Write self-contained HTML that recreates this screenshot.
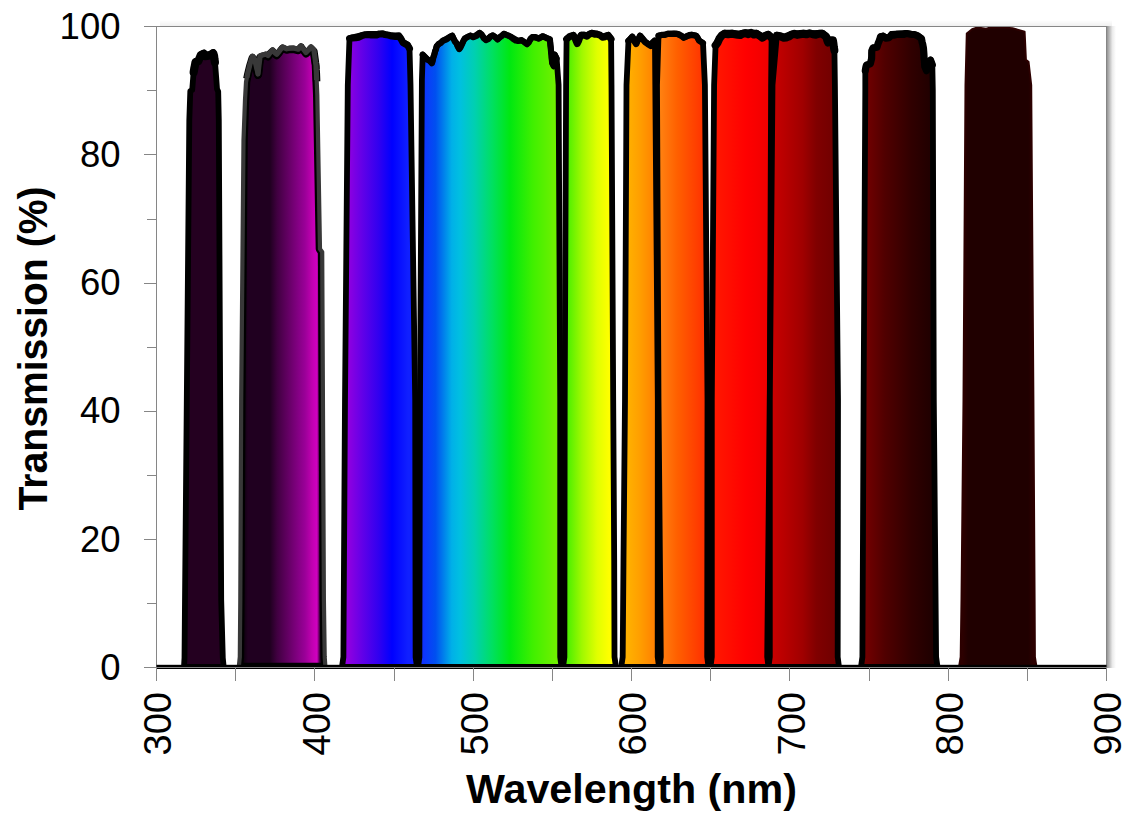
<!DOCTYPE html>
<html><head><meta charset="utf-8"><style>
html,body{margin:0;padding:0;background:#fff;}
svg{display:block;font-family:"Liberation Sans", sans-serif;}
</style></head><body>
<svg width="1138" height="826" viewBox="0 0 1138 826">
<defs><clipPath id="plotclip"><rect x="150" y="0" width="960" height="669"/></clipPath><linearGradient id="g0" gradientUnits="userSpaceOnUse" x1="185" y1="0" x2="222" y2="0"><stop offset="0.0000" stop-color="#240020"/><stop offset="1.0000" stop-color="#240020"/></linearGradient><linearGradient id="g1" gradientUnits="userSpaceOnUse" x1="244" y1="0" x2="320" y2="0"><stop offset="0.0000" stop-color="#100010"/><stop offset="0.0526" stop-color="#200020"/><stop offset="0.3421" stop-color="#200020"/><stop offset="0.4342" stop-color="#400040"/><stop offset="0.5658" stop-color="#600060"/><stop offset="0.6974" stop-color="#800080"/><stop offset="0.8026" stop-color="#9a0098"/><stop offset="0.8947" stop-color="#c000b0"/><stop offset="0.9605" stop-color="#d000c0"/><stop offset="1.0000" stop-color="#300030"/></linearGradient><clipPath id="c1"><path d="M238.8 667.0 L239.8 657.0 L240.3 600.0 L241.2 400.0 L243.5 140.0 L245.0 100.0 L246.0 82.0 L247.8 73.0 L250.0 64.0 L252.5 56.3 L255.0 60.0 L258.0 74.0 L260.0 56.0 L262.5 55.0 L266.0 54.0 L268.0 55.5 L272.6 50.0 L276.7 54.2 L282.6 47.0 L286.8 48.8 L293.4 48.0 L298.4 49.2 L301.0 45.8 L306.0 52.5 L311.0 47.0 L313.9 50.0 L315.0 58.0 L316.0 65.0 L317.3 95.0 L320.0 249.0 L322.2 252.0 L323.9 600.0 L324.7 657.0 L325.4 667.0 Z"/></clipPath><linearGradient id="g2" gradientUnits="userSpaceOnUse" x1="348" y1="0" x2="408" y2="0"><stop offset="0.0000" stop-color="#9000e0"/><stop offset="0.2500" stop-color="#6000e8"/><stop offset="0.5167" stop-color="#3000f0"/><stop offset="0.7333" stop-color="#0000ff"/><stop offset="1.0000" stop-color="#1020ff"/></linearGradient><linearGradient id="g3" gradientUnits="userSpaceOnUse" x1="422" y1="0" x2="556" y2="0"><stop offset="0.0000" stop-color="#1030ff"/><stop offset="0.1015" stop-color="#0050f0"/><stop offset="0.2224" stop-color="#00b0e8"/><stop offset="0.2836" stop-color="#00c0e0"/><stop offset="0.3940" stop-color="#00d0b0"/><stop offset="0.5254" stop-color="#00e060"/><stop offset="0.6567" stop-color="#00e810"/><stop offset="0.8284" stop-color="#40f000"/><stop offset="1.0000" stop-color="#70f000"/></linearGradient><linearGradient id="g4" gradientUnits="userSpaceOnUse" x1="568" y1="0" x2="609" y2="0"><stop offset="0.0000" stop-color="#50f000"/><stop offset="0.3415" stop-color="#a0f800"/><stop offset="0.7073" stop-color="#e0ff00"/><stop offset="1.0000" stop-color="#ffff00"/></linearGradient><linearGradient id="g5" gradientUnits="userSpaceOnUse" x1="628" y1="0" x2="655" y2="0"><stop offset="0.0000" stop-color="#ffb000"/><stop offset="0.4074" stop-color="#ffa000"/><stop offset="1.0000" stop-color="#ff8000"/></linearGradient><linearGradient id="g6" gradientUnits="userSpaceOnUse" x1="661" y1="0" x2="705" y2="0"><stop offset="0.0000" stop-color="#ff8010"/><stop offset="0.3636" stop-color="#ff6000"/><stop offset="1.0000" stop-color="#ff3000"/></linearGradient><linearGradient id="g7" gradientUnits="userSpaceOnUse" x1="715" y1="0" x2="767" y2="0"><stop offset="0.0000" stop-color="#ff1800"/><stop offset="0.5962" stop-color="#ff0000"/><stop offset="1.0000" stop-color="#f00000"/></linearGradient><linearGradient id="g8" gradientUnits="userSpaceOnUse" x1="773" y1="0" x2="835" y2="0"><stop offset="0.0000" stop-color="#c80000"/><stop offset="0.4758" stop-color="#a00000"/><stop offset="0.7016" stop-color="#800000"/><stop offset="1.0000" stop-color="#700000"/></linearGradient><linearGradient id="g9" gradientUnits="userSpaceOnUse" x1="867" y1="0" x2="931" y2="0"><stop offset="0.0000" stop-color="#700000"/><stop offset="0.2812" stop-color="#500000"/><stop offset="0.6953" stop-color="#300000"/><stop offset="1.0000" stop-color="#200000"/></linearGradient><linearGradient id="g10" gradientUnits="userSpaceOnUse" x1="962" y1="0" x2="1034" y2="0"><stop offset="0.0000" stop-color="#2e0000"/><stop offset="0.0833" stop-color="#200000"/><stop offset="0.9167" stop-color="#200000"/><stop offset="1.0000" stop-color="#2e0000"/></linearGradient><linearGradient id="shR" x1="0" y1="0" x2="1" y2="0"><stop offset="0" stop-color="#000" stop-opacity="0.42"/><stop offset="0.3" stop-color="#000" stop-opacity="0.25"/><stop offset="0.6" stop-color="#000" stop-opacity="0.08"/><stop offset="1" stop-color="#000" stop-opacity="0"/></linearGradient><linearGradient id="shT" x1="0" y1="1" x2="0" y2="0"><stop offset="0" stop-color="#000" stop-opacity="0.06"/><stop offset="1" stop-color="#000" stop-opacity="0"/></linearGradient></defs>
<rect width="1138" height="826" fill="#fff"/>
<rect x="1107" y="26" width="9" height="642" fill="url(#shR)"/><rect x="160" y="20" width="952" height="6" fill="url(#shT)"/>
<g clip-path="url(#plotclip)"><path d="M184.0 667.0 L184.5 658.0 L185.0 600.0 L189.3 120.0 L190.3 91.0 L192.2 90.0 L193.7 71.0 L195.5 61.0 L198.3 60.0 L200.8 54.0 L203.8 52.5 L205.0 55.0 L208.4 54.4 L211.0 53.5 L213.2 52.0 L214.0 54.3 L214.9 61.0 L216.3 79.0 L217.0 89.0 L218.2 91.5 L218.8 120.0 L221.2 600.0 L222.8 658.0 L223.7 667.0 Z" fill="url(#g0)" stroke="#000" stroke-width="5.8" stroke-linejoin="round"/><path d="M193.7 72.2 L194.3 68.4 L194.9 65.6 L195.5 62.2 L198.3 61.2 L199.6 58.0 L200.8 55.2 L203.8 53.7 L205.0 56.2 L208.4 55.6 L211.0 54.7 L213.2 53.2 L214.0 55.5 L214.4 59.0 L214.9 62.2" fill="none" stroke="#000" stroke-width="8.2" stroke-linejoin="round" stroke-linecap="round"/><path d="M238.8 667.0 L239.8 657.0 L240.3 600.0 L241.2 400.0 L243.5 140.0 L245.0 100.0 L246.0 82.0 L247.8 73.0 L250.0 64.0 L252.5 56.3 L255.0 60.0 L258.0 74.0 L260.0 56.0 L262.5 55.0 L266.0 54.0 L268.0 55.5 L272.6 50.0 L276.7 54.2 L282.6 47.0 L286.8 48.8 L293.4 48.0 L298.4 49.2 L301.0 45.8 L306.0 52.5 L311.0 47.0 L313.9 50.0 L315.0 58.0 L316.0 65.0 L317.3 95.0 L320.0 249.0 L322.2 252.0 L323.9 600.0 L324.7 657.0 L325.4 667.0 Z" fill="url(#g1)"/><path d="M238.8 667.0 L239.8 657.0 L240.3 600.0 L241.2 400.0 L243.5 140.0 L245.0 100.0 L246.0 82.0 L247.8 73.0 L250.0 64.0 L252.5 56.3 L255.0 60.0 L258.0 74.0 L260.0 56.0 L262.5 55.0 L266.0 54.0 L268.0 55.5 L272.6 50.0 L276.7 54.2 L282.6 47.0 L286.8 48.8 L293.4 48.0 L298.4 49.2 L301.0 45.8 L306.0 52.5 L311.0 47.0 L313.9 50.0 L315.0 58.0 L316.0 65.0 L317.3 95.0 L320.0 249.0 L322.2 252.0 L323.9 600.0 L324.7 657.0 L325.4 667.0 Z" fill="none" stroke="#000" stroke-width="8.6" stroke-linejoin="round" clip-path="url(#c1)"/><path d="M246.9 78.8 L247.8 74.3 L248.5 71.4 L249.3 68.2 L250.0 65.3 L250.8 62.8 L251.7 59.8 L252.5 57.6 L255.0 61.3 L255.6 64.5 L256.2 67.3 L256.8 69.9 L257.4 72.1 L258.0 75.3 L258.3 72.3 L258.7 69.1 L259.0 66.0 L259.3 63.8 L259.7 60.9 L260.0 57.3 L262.5 56.3 L266.0 55.3 L268.0 56.8 L270.3 53.5 L272.6 51.3 L274.6 53.8 L276.7 55.5 L278.7 53.2 L280.6 50.6 L282.6 48.3 L286.8 50.1 L290.1 49.4 L293.4 49.3 L298.4 50.5 L301.0 47.1 L302.7 49.5 L304.3 51.5 L306.0 53.8 L308.5 51.3 L311.0 48.3 L313.9 51.3 L314.3 54.2 L314.6 56.2 L315.0 59.3 L315.5 63.1 L316.0 66.3 L316.1 69.9 L316.3 72.9 L316.4 75.4 L316.5 77.8 L316.6 81.3" fill="none" stroke="#000" stroke-width="7.5" stroke-linejoin="round"/><path d="M238.8 667.0 L239.8 657.0 L240.3 600.0 L241.2 400.0 L243.5 140.0 L245.0 100.0 L246.0 82.0 L247.8 73.0 L250.0 64.0 L252.5 56.3 L255.0 60.0 L258.0 74.0 L260.0 56.0 L262.5 55.0 L266.0 54.0 L268.0 55.5 L272.6 50.0 L276.7 54.2 L282.6 47.0 L286.8 48.8 L293.4 48.0 L298.4 49.2 L301.0 45.8 L306.0 52.5 L311.0 47.0 L313.9 50.0 L315.0 58.0 L316.0 65.0 L317.3 95.0 L320.0 249.0 L322.2 252.0 L323.9 600.0 L324.7 657.0 L325.4 667.0 Z" fill="none" stroke="#383838" stroke-width="4.2" stroke-linejoin="round"/><path d="M246.9 77.5 L247.8 73.0 L248.5 70.1 L249.3 66.9 L250.0 64.0 L250.8 61.5 L251.7 58.5 L252.5 56.3 L255.0 60.0 L255.6 63.2 L256.2 66.0 L256.8 68.6 L257.4 70.8 L258.0 74.0 L258.3 71.0 L258.7 67.8 L259.0 64.7 L259.3 62.5 L259.7 59.6 L260.0 56.0 L262.5 55.0 L266.0 54.0 L268.0 55.5 L270.3 52.2 L272.6 50.0 L274.6 52.5 L276.7 54.2 L278.7 51.9 L280.6 49.3 L282.6 47.0 L286.8 48.8 L290.1 48.1 L293.4 48.0 L298.4 49.2 L301.0 45.8 L302.7 48.2 L304.3 50.2 L306.0 52.5 L308.5 50.0 L311.0 47.0 L313.9 50.0 L314.3 52.9 L314.6 54.9 L315.0 58.0 L315.5 61.8 L316.0 65.0 L316.1 68.6 L316.3 71.6 L316.4 74.1 L316.5 76.5 L316.6 80.0" fill="none" stroke="#383838" stroke-width="5.2" stroke-linejoin="round"/><path d="M342.0 667.0 L343.4 657.0 L345.0 400.0 L347.8 85.0 L349.5 38.0 L362.0 35.0 L368.4 34.0 L385.0 34.0 L391.8 35.5 L399.0 35.5 L403.0 42.0 L407.5 44.5 L409.5 48.0 L410.5 85.0 L415.2 400.0 L415.6 657.0 L417.0 667.0 Z" fill="url(#g2)" stroke="#000" stroke-width="5.8" stroke-linejoin="round"/><path d="M349.5 38.6 L352.6 37.9 L355.8 37.7 L358.9 37.2 L362.0 35.6 L365.2 34.7 L368.4 34.6 L371.2 35.1 L373.9 35.0 L376.7 34.9 L379.5 33.9 L382.2 33.7 L385.0 34.6 L388.4 35.1 L391.8 36.1 L395.4 36.5 L399.0 36.1 L401.0 38.9 L403.0 42.6 L407.5 45.1 L409.5 48.6" fill="none" stroke="#000" stroke-width="7.0" stroke-linejoin="round" stroke-linecap="round"/><path d="M418.0 667.0 L419.4 657.0 L420.0 400.0 L421.9 80.0 L422.7 54.5 L431.8 63.0 L436.7 46.1 L443.0 40.5 L452.2 35.5 L459.2 48.9 L464.8 38.4 L470.5 35.5 L473.3 37.0 L479.6 32.7 L485.9 39.8 L492.9 35.3 L497.7 39.2 L504.0 33.7 L511.1 36.9 L518.2 40.8 L521.4 40.0 L526.9 44.0 L532.5 36.9 L538.8 38.4 L542.8 36.1 L549.9 39.2 L550.7 47.2 L552.2 63.0 L553.8 66.1 L554.6 54.3 L556.6 58.2 L558.6 85.0 L560.2 400.0 L560.2 657.0 L561.5 667.0 Z" fill="url(#g3)" stroke="#000" stroke-width="5.8" stroke-linejoin="round"/><path d="M422.7 54.7 L425.0 57.2 L427.2 59.6 L429.5 60.5 L431.8 63.2 L432.6 61.3 L433.4 57.0 L434.2 55.1 L435.1 51.2 L435.9 49.6 L436.7 46.3 L438.8 43.8 L440.9 42.9 L443.0 40.7 L445.3 39.9 L447.6 38.7 L449.9 36.8 L452.2 35.7 L453.6 39.0 L455.0 41.9 L456.4 43.0 L457.8 46.5 L459.2 49.1 L460.6 47.3 L462.0 44.3 L463.4 41.1 L464.8 38.6 L467.6 36.8 L470.5 35.7 L473.3 37.2 L476.5 35.9 L479.6 32.9 L481.7 34.5 L483.8 38.1 L485.9 40.0 L488.2 39.1 L490.6 36.4 L492.9 35.5 L495.3 37.1 L497.7 39.4 L499.8 37.2 L501.9 35.8 L504.0 33.9 L507.6 35.3 L511.1 37.1 L513.5 39.1 L515.8 40.5 L518.2 41.0 L521.4 40.2 L524.1 41.9 L526.9 44.2 L528.8 42.5 L530.6 38.7 L532.5 37.1 L535.6 37.1 L538.8 38.6 L542.8 36.3 L546.3 38.1 L549.9 39.4 L550.2 42.6 L550.4 45.3 L550.7 47.4 L551.0 50.9 L551.2 53.3 L551.5 54.9 L551.7 58.4 L552.0 61.3 L552.2 63.2 L553.8 66.3 L554.0 62.6 L554.2 60.4 L554.4 56.8 L554.6 54.5 L556.6 58.4" fill="none" stroke="#000" stroke-width="6.2" stroke-linejoin="round" stroke-linecap="round"/><path d="M563.0 667.0 L564.4 657.0 L564.7 400.0 L566.1 85.0 L566.6 38.5 L573.4 34.7 L577.2 42.9 L581.1 34.7 L586.9 35.6 L591.7 32.7 L597.5 33.7 L602.4 36.6 L608.2 34.7 L611.1 38.5 L611.5 85.0 L613.2 400.0 L614.2 560.0 L614.5 657.0 L616.0 667.0 Z" fill="url(#g4)" stroke="#000" stroke-width="5.8" stroke-linejoin="round"/><path d="M566.6 39.1 L570.0 36.3 L573.4 35.3 L574.7 37.3 L575.9 40.6 L577.2 43.5 L578.5 41.1 L579.8 37.4 L581.1 35.3 L584.0 35.1 L586.9 36.2 L589.3 34.3 L591.7 33.3 L594.6 34.3 L597.5 34.3 L600.0 35.1 L602.4 37.2 L605.3 36.7 L608.2 35.3 L611.1 39.1" fill="none" stroke="#000" stroke-width="7.0" stroke-linejoin="round" stroke-linecap="round"/><path d="M621.2 667.0 L622.7 657.0 L623.5 560.0 L625.0 400.0 L626.5 85.0 L628.5 40.5 L632.3 36.6 L636.2 43.4 L640.1 35.6 L644.9 41.4 L650.7 45.3 L654.6 40.5 L655.0 46.0 L655.3 85.0 L657.8 400.0 L657.7 657.0 L659.0 667.0 Z" fill="url(#g5)" stroke="#000" stroke-width="5.8" stroke-linejoin="round"/><path d="M628.5 40.9 L630.4 39.2 L632.3 37.0 L633.6 39.1 L634.9 41.9 L636.2 43.8 L637.5 40.4 L638.8 39.0 L640.1 36.0 L642.5 38.7 L644.9 41.8 L647.8 43.9 L650.7 45.7 L652.7 42.7 L654.6 40.9 L654.8 43.4 L655.0 46.4" fill="none" stroke="#000" stroke-width="6.6" stroke-linejoin="round" stroke-linecap="round"/><path d="M659.5 667.0 L660.8 657.0 L658.5 400.0 L657.0 85.0 L658.5 35.6 L671.1 33.7 L676.9 33.7 L683.7 37.6 L691.4 34.7 L696.2 35.6 L699.1 40.5 L703.0 42.9 L704.9 85.0 L707.5 400.0 L707.2 657.0 L708.5 667.0 Z" fill="url(#g6)" stroke="#000" stroke-width="5.8" stroke-linejoin="round"/><path d="M658.5 35.8 L661.6 34.9 L664.8 34.8 L668.0 33.6 L671.1 33.9 L674.0 33.6 L676.9 33.9 L679.2 34.4 L681.4 35.6 L683.7 37.8 L686.3 36.4 L688.8 35.2 L691.4 34.9 L696.2 35.8 L697.7 37.9 L699.1 40.7 L703.0 43.1" fill="none" stroke="#000" stroke-width="6.2" stroke-linejoin="round" stroke-linecap="round"/><path d="M710.5 667.0 L711.8 657.0 L711.8 400.0 L714.1 85.0 L715.6 44.3 L719.4 37.6 L724.3 32.7 L732.0 32.7 L737.8 33.7 L745.5 32.2 L756.6 32.7 L762.4 36.6 L768.2 33.7 L771.6 36.6 L771.1 85.0 L769.8 400.0 L767.2 657.0 L768.5 667.0 Z" fill="url(#g7)" stroke="#000" stroke-width="5.8" stroke-linejoin="round"/><path d="M715.6 45.4 L717.5 42.9 L719.4 38.7 L721.8 35.4 L724.3 33.8 L728.1 34.2 L732.0 33.8 L734.9 34.3 L737.8 34.8 L740.4 35.1 L742.9 33.6 L745.5 33.3 L748.3 34.2 L751.0 32.9 L753.8 34.6 L756.6 33.8 L759.5 35.6 L762.4 37.7 L765.3 35.7 L768.2 34.8 L771.6 37.7" fill="none" stroke="#000" stroke-width="8.0" stroke-linejoin="round" stroke-linecap="round"/><path d="M768.5 667.0 L769.8 657.0 L769.8 400.0 L772.5 85.0 L776.9 34.7 L783.7 36.6 L791.4 33.7 L803.0 32.7 L812.7 33.2 L822.3 32.7 L826.2 35.6 L828.1 41.4 L830.1 39.5 L833.0 39.5 L834.4 49.2 L834.9 85.0 L838.0 400.0 L837.7 657.0 L839.0 667.0 Z" fill="url(#g8)" stroke="#000" stroke-width="5.8" stroke-linejoin="round"/><path d="M776.9 35.8 L780.3 36.3 L783.7 37.7 L786.3 37.5 L788.8 36.6 L791.4 34.8 L794.3 33.7 L797.2 34.9 L800.1 34.4 L803.0 33.8 L806.2 34.3 L809.5 33.3 L812.7 34.3 L815.9 34.7 L819.1 33.7 L822.3 33.8 L826.2 36.7 L827.2 40.2 L828.1 42.5 L830.1 40.6 L833.0 40.6 L833.5 43.9 L833.9 47.5 L834.4 50.3" fill="none" stroke="#000" stroke-width="8.0" stroke-linejoin="round" stroke-linecap="round"/><path d="M861.0 667.0 L862.4 657.0 L863.6 400.0 L865.3 90.0 L865.3 70.0 L866.5 64.4 L870.3 63.2 L871.6 58.0 L871.8 50.0 L873.0 47.4 L877.0 46.5 L879.3 40.0 L880.5 36.0 L883.0 35.5 L886.0 37.5 L889.0 37.0 L891.5 34.0 L906.3 32.8 L917.4 35.0 L921.5 38.0 L923.5 48.0 L924.8 66.0 L926.5 70.0 L928.3 62.0 L930.6 59.5 L932.3 64.0 L932.8 90.0 L933.8 400.0 L936.1 657.0 L937.5 667.0 Z" fill="url(#g9)" stroke="#000" stroke-width="5.8" stroke-linejoin="round"/><path d="M865.3 70.7 L865.9 67.1 L866.5 65.1 L870.3 63.9 L871.0 61.2 L871.6 58.7 L871.7 55.6 L871.7 53.3 L871.8 50.7 L873.0 48.1 L877.0 47.2 L878.1 43.5 L879.3 40.7 L880.5 36.7 L883.0 36.2 L886.0 38.2 L889.0 37.7 L891.5 34.7 L894.5 35.1 L897.4 34.3 L900.4 34.4 L903.3 34.5 L906.3 33.5 L909.1 34.0 L911.8 34.5 L914.6 34.5 L917.4 35.7 L921.5 38.7 L922.2 42.5 L922.8 44.6 L923.5 48.7 L923.7 51.5 L923.9 54.1 L924.1 58.1 L924.4 60.6 L924.6 63.7 L924.8 66.7 L926.5 70.7 L927.1 68.1 L927.7 66.0 L928.3 62.7 L930.6 60.2 L932.3 64.7" fill="none" stroke="#000" stroke-width="7.2" stroke-linejoin="round" stroke-linecap="round"/><path d="M959.0 667.0 L960.7 657.0 L961.5 600.0 L963.5 400.0 L965.5 85.0 L966.8 33.6 L972.1 29.2 L977.4 27.4 L986.1 28.7 L990.5 27.4 L1003.7 27.4 L1012.5 28.3 L1024.6 31.8 L1025.9 59.9 L1028.5 61.7 L1031.2 85.0 L1033.4 400.0 L1034.6 600.0 L1034.9 657.0 L1036.5 667.0 Z" fill="url(#g10)" stroke="#2c0000" stroke-width="2" stroke-linejoin="round"/></g>
<line x1="156.5" y1="26" x2="156.5" y2="667.5" stroke="#868686" stroke-width="1"/><line x1="144" y1="26.5" x2="1107" y2="26.5" stroke="#868686" stroke-width="1"/><line x1="1106.5" y1="26" x2="1106.5" y2="681" stroke="#868686" stroke-width="1"/><rect x="156.5" y="664.8" width="950" height="4.2" fill="#000"/><line x1="144" y1="667.5" x2="1107" y2="667.5" stroke="#868686" stroke-width="1"/><line x1="144" y1="667.5" x2="156.5" y2="667.5" stroke="#868686" stroke-width="1"/><line x1="147" y1="603.5" x2="156.5" y2="603.5" stroke="#868686" stroke-width="1"/><line x1="144" y1="539.5" x2="156.5" y2="539.5" stroke="#868686" stroke-width="1"/><line x1="147" y1="475.5" x2="156.5" y2="475.5" stroke="#868686" stroke-width="1"/><line x1="144" y1="411.5" x2="156.5" y2="411.5" stroke="#868686" stroke-width="1"/><line x1="147" y1="347.5" x2="156.5" y2="347.5" stroke="#868686" stroke-width="1"/><line x1="144" y1="283.5" x2="156.5" y2="283.5" stroke="#868686" stroke-width="1"/><line x1="147" y1="219.5" x2="156.5" y2="219.5" stroke="#868686" stroke-width="1"/><line x1="144" y1="154.5" x2="156.5" y2="154.5" stroke="#868686" stroke-width="1"/><line x1="147" y1="90.5" x2="156.5" y2="90.5" stroke="#868686" stroke-width="1"/><line x1="144" y1="26.5" x2="156.5" y2="26.5" stroke="#868686" stroke-width="1"/><line x1="156.5" y1="667.5" x2="156.5" y2="681" stroke="#868686" stroke-width="1"/><line x1="235.5" y1="667.5" x2="235.5" y2="681" stroke="#868686" stroke-width="1"/><line x1="314.5" y1="667.5" x2="314.5" y2="681" stroke="#868686" stroke-width="1"/><line x1="394.5" y1="667.5" x2="394.5" y2="681" stroke="#868686" stroke-width="1"/><line x1="473.5" y1="667.5" x2="473.5" y2="681" stroke="#868686" stroke-width="1"/><line x1="552.5" y1="667.5" x2="552.5" y2="681" stroke="#868686" stroke-width="1"/><line x1="631.5" y1="667.5" x2="631.5" y2="681" stroke="#868686" stroke-width="1"/><line x1="710.5" y1="667.5" x2="710.5" y2="681" stroke="#868686" stroke-width="1"/><line x1="789.5" y1="667.5" x2="789.5" y2="681" stroke="#868686" stroke-width="1"/><line x1="869.5" y1="667.5" x2="869.5" y2="681" stroke="#868686" stroke-width="1"/><line x1="948.5" y1="667.5" x2="948.5" y2="681" stroke="#868686" stroke-width="1"/><line x1="1027.5" y1="667.5" x2="1027.5" y2="681" stroke="#868686" stroke-width="1"/><line x1="1106.5" y1="667.5" x2="1106.5" y2="681" stroke="#868686" stroke-width="1"/>
<g fill="#000"><text x="120.5" y="679.8" text-anchor="end" font-size="36.5">0</text><text x="120.5" y="551.6" text-anchor="end" font-size="36.5">20</text><text x="120.5" y="423.4" text-anchor="end" font-size="36.5">40</text><text x="120.5" y="295.2" text-anchor="end" font-size="36.5">60</text><text x="120.5" y="167.0" text-anchor="end" font-size="36.5">80</text><text x="120.5" y="38.8" text-anchor="end" font-size="36.5">100</text><text transform="translate(171.3,692) rotate(-90)" x="0" y="0" text-anchor="end" font-size="38">300</text><text transform="translate(329.6,692) rotate(-90)" x="0" y="0" text-anchor="end" font-size="38">400</text><text transform="translate(488.0,692) rotate(-90)" x="0" y="0" text-anchor="end" font-size="38">500</text><text transform="translate(646.3,692) rotate(-90)" x="0" y="0" text-anchor="end" font-size="38">600</text><text transform="translate(804.6,692) rotate(-90)" x="0" y="0" text-anchor="end" font-size="38">700</text><text transform="translate(963.0,692) rotate(-90)" x="0" y="0" text-anchor="end" font-size="38">800</text><text transform="translate(1121.3,692) rotate(-90)" x="0" y="0" text-anchor="end" font-size="38">900</text><text x="466" y="803" font-size="41" font-weight="bold" textLength="331" lengthAdjust="spacingAndGlyphs">Wavelength (nm)</text><text transform="translate(46.6,510.5) rotate(-90)" x="0" y="0" font-size="41" font-weight="bold" textLength="324" lengthAdjust="spacingAndGlyphs">Transmission (%)</text></g>
</svg>
</body></html>
